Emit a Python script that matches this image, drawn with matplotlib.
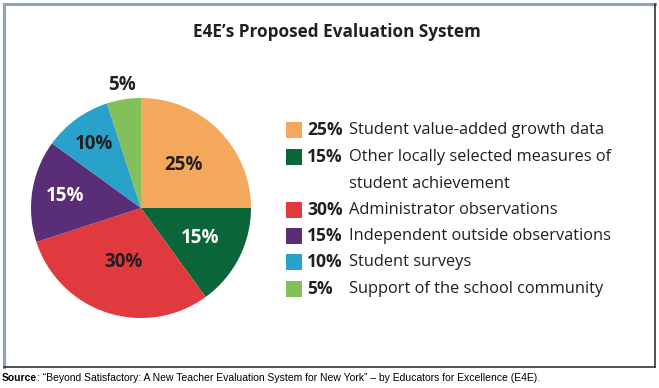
import numpy as np
import matplotlib
matplotlib.use("Agg")
import matplotlib.pyplot as plt
from matplotlib.patches import Rectangle

# ---- data ----
title = "E4E\u2019s Proposed Evaluation System"
values = [25, 15, 30, 15, 10, 5]
pct_labels = ["25%", "15%", "30%", "15%", "10%", "5%"]
categories = [
    "Student value-added growth data",
    "Other locally selected measures of\nstudent achievement",
    "Administrator observations",
    "Independent outside observations",
    "Student surveys",
    "Support of the school community",
]
colors = ["#F4A85C", "#0A6639", "#E03A3E", "#5A2D77", "#29A2CB", "#82C05A"]
label_colors = ["#231F20", "white", "#231F20", "white", "#231F20", "#231F20"]
label_radius = [0.55, 0.60, 0.52, 0.70, 0.72, 1.13]
source_bold = "Source"
source_rest = ": \u201cBeyond Satisfactory: A New Teacher Evaluation System for New York\u201d \u2013 by Educators for Excellence (E4E)."

W, H = 659, 388
fig = plt.figure(figsize=(W / 100, H / 100), dpi=100)
fig.patch.set_facecolor("white")

def fx(px):
    return px / W

def fy(py):
    return 1 - py / H

# frame
fig.add_artist(plt.Line2D([fx(3.5), fx(655)], [fy(3.5), fy(3.5)], transform=fig.transFigure,
                          color="#8FA3C0", lw=2.2))
fig.add_artist(plt.Line2D([fx(3.5), fx(3.5)], [fy(3.5), fy(367)], transform=fig.transFigure,
                          color="#8FA3C0", lw=2.2))
fig.add_artist(plt.Line2D([fx(3.5), fx(655)], [fy(367), fy(367)], transform=fig.transFigure,
                          color="#333333", lw=1.2))
fig.add_artist(plt.Line2D([fx(655), fx(655)], [fy(3.5), fy(367)], transform=fig.transFigure,
                          color="#333333", lw=1.2))

# title
fig.text(fx(337), fy(32), title, ha="center", va="center", fontsize=12.3,
         fontweight="bold", family="Open Sans", color="#231F20")

# pie
cx, cy, r = 141, 208, 110
ax = fig.add_axes([fx(cx - r), fy(cy + r), fx(2 * r), (2 * r) / H])
wedges, _ = ax.pie(values, colors=colors, startangle=90, counterclock=False,
                   radius=1.0, wedgeprops=dict(linewidth=0))
ax.set_xlim(-1, 1)
ax.set_ylim(-1, 1)
ax.set_aspect("equal")
ax.axis("off")
for w, lab, lc, rr in zip(wedges, pct_labels, label_colors, label_radius):
    ang = np.deg2rad((w.theta1 + w.theta2) / 2)
    ax.text(rr * np.cos(ang), rr * np.sin(ang), lab, ha="center", va="center",
            fontsize=13.5, fontweight="bold", family="Open Sans", color=lc, clip_on=False)

# legend
row_y = [130, 157, 210, 236, 262, 289]
fs = 11.8
for y, col, pl, cat in zip(row_y, colors, pct_labels, categories):
    fig.add_artist(Rectangle((fx(286), fy(y + 8)), 16 / W, 16 / H,
                             transform=fig.transFigure, color=col, lw=0))
    fig.text(fx(307), fy(y), pl, ha="left", va="center", fontsize=12.6,
             fontweight="bold", family="Open Sans", color="#231F20")
    for i, line in enumerate(cat.split("\n")):
        fig.text(fx(349), fy(y + 26.5 * i), line, ha="left", va="center", fontsize=fs,
                 family="Open Sans", color="#231F20")

# source
t = fig.text(fx(2), fy(378), source_bold, ha="left", va="center", fontsize=7.45,
             fontweight="bold", family="Liberation Sans", color="black")
fig.canvas.draw()
bb = t.get_window_extent()
fig.text(bb.x1 / W, fy(378), source_rest, ha="left", va="center", fontsize=7.45,
         family="Liberation Sans", color="black")

fig.savefig("out.png", dpi=100, facecolor="white")
